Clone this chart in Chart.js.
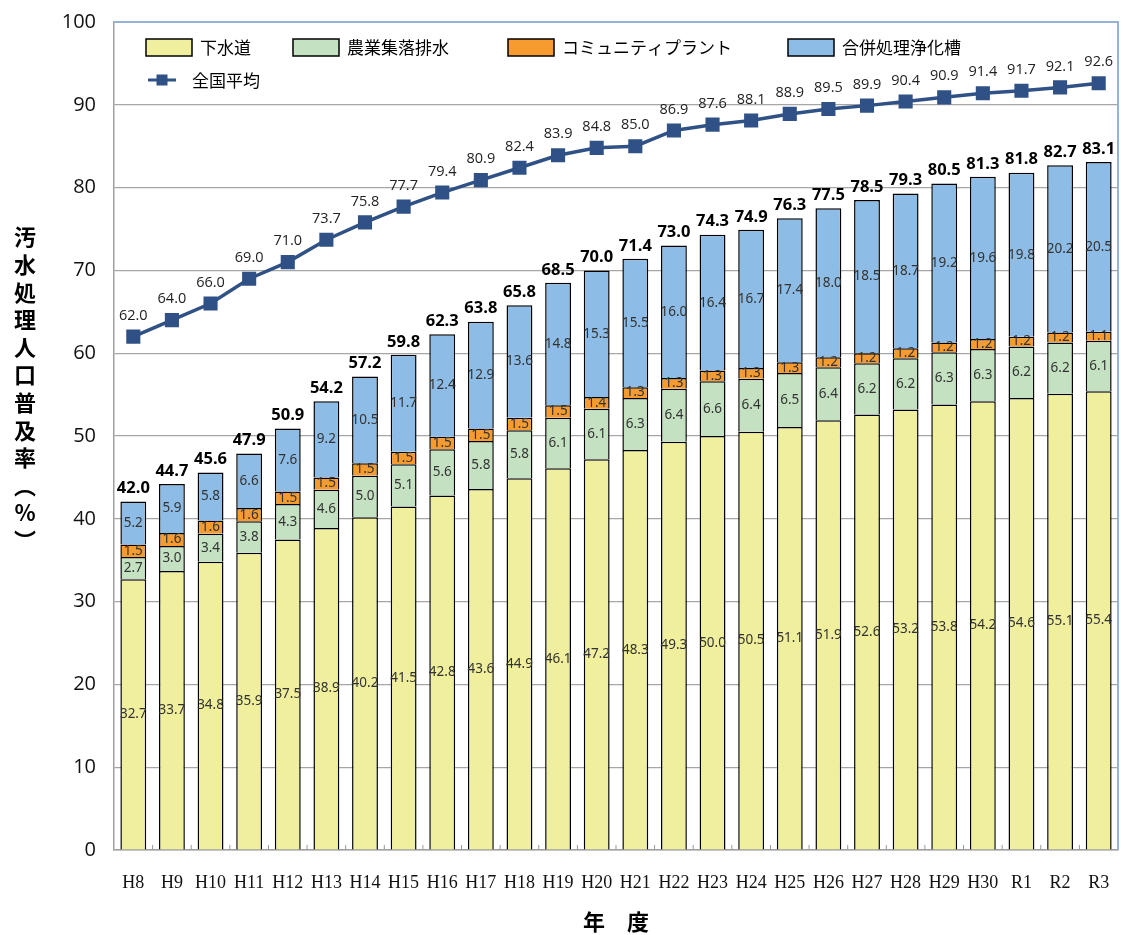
<!DOCTYPE html>
<html><head><meta charset="utf-8">
<script src="https://cdn.jsdelivr.net/npm/chart.js@4.4.0/dist/chart.umd.min.js"></script>
<style>html,body{margin:0;padding:0;background:#fff}</style>
</head><body>
<canvas id="c" width="1123" height="935"></canvas>
<script>
const years = ['H8','H9','H10','H11','H12','H13','H14','H15','H16','H17','H18','H19','H20','H21','H22','H23','H24','H25','H26','H27','H28','H29','H30','R1','R2','R3'];
const sewer = [32.7,33.7,34.8,35.9,37.5,38.9,40.2,41.5,42.8,43.6,44.9,46.1,47.2,48.3,49.3,50.0,50.5,51.1,51.9,52.6,53.2,53.8,54.2,54.6,55.1,55.4];
const rural = [2.7,3.0,3.4,3.8,4.3,4.6,5.0,5.1,5.6,5.8,5.8,6.1,6.1,6.3,6.4,6.6,6.4,6.5,6.4,6.2,6.2,6.3,6.3,6.2,6.2,6.1];
const community = [1.5,1.6,1.6,1.6,1.5,1.5,1.5,1.5,1.5,1.5,1.5,1.5,1.4,1.3,1.3,1.3,1.3,1.3,1.2,1.2,1.2,1.2,1.2,1.2,1.2,1.1];
const johkaso = [5.2,5.9,5.8,6.6,7.6,9.2,10.5,11.7,12.4,12.9,13.6,14.8,15.3,15.5,16.0,16.4,16.7,17.4,18.0,18.5,18.7,19.2,19.6,19.8,20.2,20.5];
const totals = [42.0,44.7,45.6,47.9,50.9,54.2,57.2,59.8,62.3,63.8,65.8,68.5,70.0,71.4,73.0,74.3,74.9,76.3,77.5,78.5,79.3,80.5,81.3,81.8,82.7,83.1];
const national = [62.0,64.0,66.0,69.0,71.0,73.7,75.8,77.7,79.4,80.9,82.4,83.9,84.8,85.0,86.9,87.6,88.1,88.9,89.5,89.9,90.4,90.9,91.4,91.7,92.1,92.6];
const seriesNames = ['下水道','農業集落排水','コミュニティプラント','合併処理浄化槽','全国平均'];
const yTicks = [0,10,20,30,40,50,60,70,80,90,100];
const yTitleChars = ['汚','水','処','理','人','口','普','及','率','︵','%','︶'];
const xTitle = '年　度';

const COLORS = ['#F0EF9E','#C4E2C2','#F59B2F','#8DBDE6'];
const LINE = '#2F5186';
const JP = '"Noto Sans CJK JP", "Noto Sans", sans-serif';

const labelPlugin = {
  id: 'labels',
  afterDatasetsDraw(chart) {
    const ctx = chart.ctx;
    ctx.save();
    ctx.textAlign = 'center';
    ctx.textBaseline = 'middle';
    ctx.fillStyle = '#333';
    ctx.font = '13.5px "Liberation Sans Narrow", "Noto Sans", sans-serif';
    for (let d = 1; d <= 4; d++) {
      const ds = chart.data.datasets[d];
      const meta = chart.getDatasetMeta(d);
      meta.data.forEach((el, j) => {
        ctx.fillText(ds.data[j].toFixed(1), el.x, (el.y + el.base) / 2);
      });
    }
    ctx.fillStyle = '#000';
    ctx.font = 'bold 16.5px "Open Sans", "Noto Sans", sans-serif';
    const topMeta = chart.getDatasetMeta(4);
    topMeta.data.forEach((el, j) => {
      ctx.fillText(totals[j].toFixed(1), el.x, el.y - 13);
    });
    ctx.fillStyle = '#222';
    ctx.font = '14.5px "Open Sans", "Noto Sans", sans-serif';
    const lm = chart.getDatasetMeta(0);
    lm.data.forEach((el, j) => {
      ctx.fillText(national[j].toFixed(1), el.x, el.y - 21);
    });
    ctx.restore();
  }
};

const decorPlugin = {
  id: 'decor',
  afterDraw(chart) {
    const ctx = chart.ctx;
    const a = chart.chartArea;
    ctx.save();
    ctx.strokeStyle = '#95B3D7';
    ctx.lineWidth = 2;
    ctx.beginPath();
    ctx.moveTo(a.left, a.top); ctx.lineTo(a.right, a.top); ctx.lineTo(a.right, a.bottom);
    ctx.stroke();
    const cols = [32, 179, 394, 674];
    const r1 = a.top + 25;
    ctx.font = '17px ' + JP;
    ctx.textBaseline = 'middle';
    ctx.textAlign = 'left';
    for (let i = 0; i < 4; i++) {
      const x = a.left + cols[i];
      ctx.fillStyle = COLORS[i];
      ctx.fillRect(x, r1 - 8, 46, 17);
      ctx.strokeStyle = '#000';
      ctx.lineWidth = 1.5;
      ctx.strokeRect(x, r1 - 8, 46, 17);
      ctx.fillStyle = '#000';
      ctx.fillText(seriesNames[i], x + 54, r1 + 1);
    }
    const r2 = a.top + 58;
    const x0 = a.left + 34;
    ctx.strokeStyle = LINE;
    ctx.lineWidth = 3;
    ctx.beginPath(); ctx.moveTo(x0, r2); ctx.lineTo(x0 + 28, r2); ctx.stroke();
    ctx.fillStyle = LINE;
    ctx.fillRect(x0 + 14 - 5.5, r2 - 5.5, 11, 11);
    ctx.fillStyle = '#000';
    ctx.fillText(seriesNames[4], a.left + 78, r2 + 1);
    ctx.font = 'bold 22px ' + JP;
    ctx.textAlign = 'center';
    ctx.fillStyle = '#000';
    yTitleChars.forEach((ch, i) => {
      ctx.fillText(ch, 25, 237 + i * 27.6);
    });
    const xs = chart.scales.x;
    ctx.strokeStyle = '#999';
    ctx.lineWidth = 1;
    for (let j = 1; j < years.length; j++) {
      const bx = (xs.getPixelForValue(j - 1) + xs.getPixelForValue(j)) / 2;
      ctx.beginPath(); ctx.moveTo(bx, a.bottom); ctx.lineTo(bx, a.bottom - 5); ctx.stroke();
    }
    ctx.restore();
  }
};

const barCommon = { stack: 'bars', borderColor: '#000', borderWidth: 1.5, categoryPercentage: 1, barPercentage: 0.67, order: 1 };

new Chart(document.getElementById('c'), {
  data: {
    labels: years,
    datasets: [
      { type: 'line', label: seriesNames[4], data: national, stack: 'avg', borderColor: LINE, backgroundColor: LINE, borderWidth: 3.5,
        pointStyle: 'rect', pointRadius: 7.5, pointBackgroundColor: LINE, pointBorderColor: LINE, tension: 0, order: 0 },
      Object.assign({ type: 'bar', label: seriesNames[0], data: sewer, backgroundColor: COLORS[0] }, barCommon),
      Object.assign({ type: 'bar', label: seriesNames[1], data: rural, backgroundColor: COLORS[1] }, barCommon),
      Object.assign({ type: 'bar', label: seriesNames[2], data: community, backgroundColor: COLORS[2] }, barCommon),
      Object.assign({ type: 'bar', label: seriesNames[3], data: johkaso, backgroundColor: COLORS[3] }, barCommon)
    ]
  },
  options: {
    responsive: false,
    animation: false,
    devicePixelRatio: 1,
    layout: { autoPadding: false, padding: { left: 0, right: 5, top: 22, bottom: 0 } },
    plugins: { legend: { display: false }, tooltip: { enabled: false } },
    scales: {
      x: {
        stacked: true,
        grid: { display: false },
        border: { color: '#A0A0A0', width: 1.5 },
        ticks: { color: '#111', font: { family: '"Liberation Serif", serif', size: 18 }, padding: 14, maxRotation: 0, autoSkip: false },
        title: { display: true, text: xTitle, color: '#000', font: { family: JP, size: 22, weight: 'bold' }, padding: { top: 12, bottom: 0 } },
        afterFit(s) { s.height = 85; s.paddingRight = 0; s.paddingLeft = 0; }
      },
      y: {
        stacked: true,
        min: 0, max: 100,
        afterBuildTicks(s) { s.ticks = yTicks.map(v => ({ value: v })); },
        grid: { color: '#A6A6A6', lineWidth: 1.2, drawTicks: false },
        border: { color: '#A0A0A0', width: 1.5 },
        ticks: { color: '#111', font: { family: '"Open Sans", sans-serif', size: 20 }, padding: 18 },
        afterFit(s) { s.width = 114; s.paddingTop = 0; s.paddingBottom = 0; }
      }
    }
  },
  plugins: [labelPlugin, decorPlugin]
});
</script>
</body></html>
